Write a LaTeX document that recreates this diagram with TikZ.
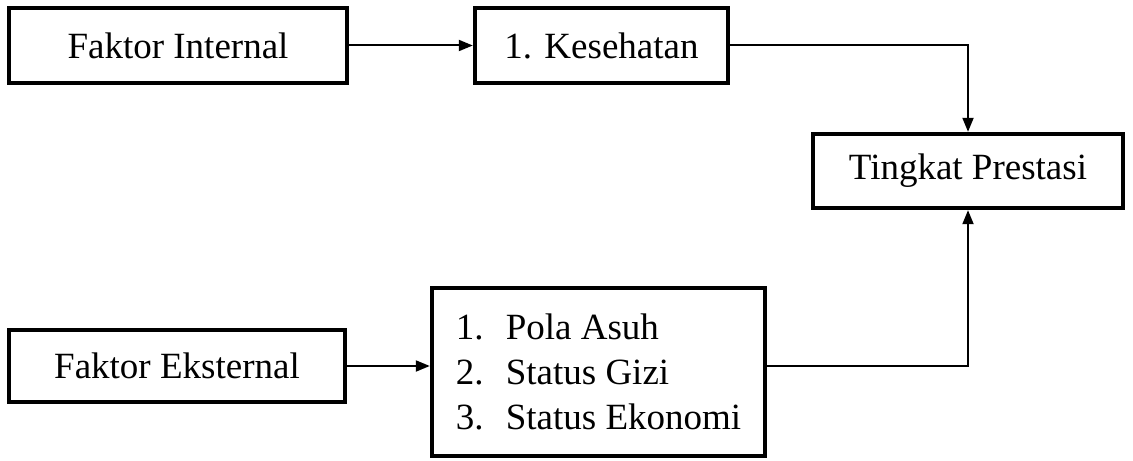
\documentclass[tikz,border=0pt]{standalone}
\usepackage{fontspec}
\setmainfont{Liberation Serif}
\usetikzlibrary{arrows.meta}
\begin{document}
\begin{tikzpicture}[x=0.5pt,y=-0.5pt,
  box/.style={draw=black,line width=2.2pt,fill=white,inner sep=0pt,
    font=\fontsize{18.5}{22.5}\selectfont},
  conn/.style={draw=black,line width=1pt,-{Triangle[length=7pt,width=5.5pt]}}]
\useasboundingbox (0,0) rectangle (1133,460);
\node[box,minimum width=169pt,minimum height=37.5pt] (fi) at (178,45.5) {Faktor Internal};
\node[box,minimum width=126.5pt,minimum height=37.5pt] (k) at (601.5,45.5) {1. Kesehatan};
\node[box,minimum width=155pt,minimum height=37pt] (tp) at (968,171) {Tingkat Prestasi};
\node[box,minimum width=168pt,minimum height=36pt] (fe) at (177,366) {Faktor Eksternal};
\node[box,minimum width=166.5pt,minimum height=84pt,align=left] (big) at (598.5,372)
  {1.\hspace{0.6em}Pola Asuh\\2.\hspace{0.6em}Status Gizi\\3.\hspace{0.6em}Status Ekonomi};
\draw[conn] (fi.east) -- (k.west);
\draw[conn] (k.east) -| (tp.north);
\draw[conn] (fe.east) -- (fe.east -| big.west);
\draw[conn] (fe.east -| big.east) -| (tp.south);
\end{tikzpicture}
\end{document}
